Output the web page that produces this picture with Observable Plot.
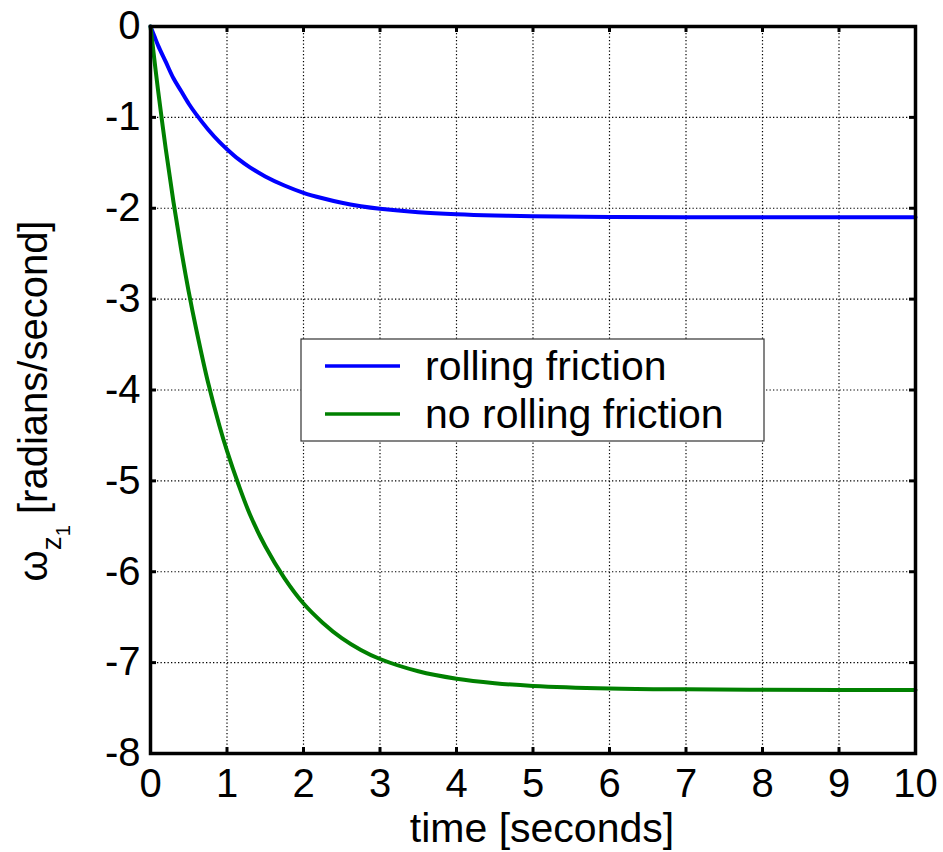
<!DOCTYPE html>
<html>
<head>
<meta charset="utf-8">
<script src="https://cdn.jsdelivr.net/npm/d3@7"></script>
<script src="https://cdn.jsdelivr.net/npm/@observablehq/plot@0.6"></script>
<style>
  html, body { margin: 0; padding: 0; background: #fff; }
  #chart { width: 943px; height: 852px; }
</style>
</head>
<body>
<div id="chart"></div>
<script>
// ---- data ----
const time = [0, 0.05, 0.1, 0.2, 0.3, 0.4, 0.5, 0.6, 0.75, 0.9, 1, 1.15, 1.3, 1.5, 1.75, 2, 2.25, 2.5, 2.75, 3, 3.5, 4, 4.5, 5, 6, 7, 8, 9, 10];
const rollingFriction = [0, -0.105, -0.21, -0.39, -0.57, -0.71, -0.85, -0.97, -1.13, -1.27, -1.35, -1.46, -1.55, -1.65, -1.75, -1.83, -1.89, -1.94, -1.977, -2.005, -2.043, -2.066, -2.08, -2.088, -2.096, -2.1, -2.1, -2.1, -2.1];
const noRollingFriction = [0, -0.36, -0.71, -1.35, -1.93, -2.45, -2.92, -3.34, -3.91, -4.39, -4.67, -5.04, -5.37, -5.72, -6.07, -6.35, -6.56, -6.73, -6.86, -6.96, -7.095, -7.177, -7.226, -7.256, -7.284, -7.294, -7.298, -7.3, -7.3];
const seriesNames = ["rolling friction", "no rolling friction"];
const seriesColors = ["#0000ff", "#008000"];
const xTicks = [0, 1, 2, 3, 4, 5, 6, 7, 8, 9, 10];
const yTicks = [-8, -7, -6, -5, -4, -3, -2, -1, 0];
const xLabel = "time [seconds]";

// ---- build table ----
const rows = [];
time.forEach((t, i) => {
  rows.push({t, v: rollingFriction[i], s: seriesNames[0]});
  rows.push({t, v: noRollingFriction[i], s: seriesNames[1]});
});

const W = 943, H = 852;
const mL = 150, mT = 26, mR = 28, mB = 99;
const innerH = H - mT - mB;
const innerW = W - mL - mR;
const font = "Liberation Sans, Arial, Helvetica, sans-serif";
const tickLen = 6;

const chart = Plot.plot({
  width: W, height: H,
  marginLeft: mL, marginTop: mT, marginRight: mR, marginBottom: mB,
  style: {fontFamily: font, background: "#fff", color: "#000"},
  x: {domain: [0, 10]},
  y: {domain: [-8, 0]},
  color: {domain: seriesNames, range: seriesColors},
  marks: [
    Plot.gridX(xTicks.slice(1, -1), {stroke: "#000", strokeOpacity: 1, strokeWidth: 1.2, strokeDasharray: "1.3,2.2"}),
    Plot.gridY(yTicks.slice(1, -1), {stroke: "#000", strokeOpacity: 1, strokeWidth: 1.2, strokeDasharray: "1.3,2.2"}),
    Plot.line(rows, {x: "t", y: "v", z: "s", stroke: "s", strokeWidth: 4, curve: "catmull-rom"}),
    // inward ticks on all four sides
    Plot.tickX(xTicks, {x: d => d, insetTop: innerH - tickLen, stroke: "#000", strokeWidth: 3}),
    Plot.tickX(xTicks, {x: d => d, insetBottom: innerH - tickLen, stroke: "#000", strokeWidth: 3}),
    Plot.tickY(yTicks, {y: d => d, insetRight: innerW - tickLen, stroke: "#000", strokeWidth: 3}),
    Plot.tickY(yTicks, {y: d => d, insetLeft: innerW - tickLen, stroke: "#000", strokeWidth: 3}),
    Plot.axisX({ticks: xTicks, tickSize: 0, tickPadding: 15, fontSize: 40, label: null, tickFormat: d => String(d)}),
    Plot.axisY({ticks: yTicks, tickSize: 0, tickPadding: 10, fontSize: 40, label: null, tickFormat: d => String(d)}),
    Plot.frame({stroke: "#000", strokeWidth: 3.5})
  ]
});

const svg = d3.select(chart);
svg.attr("font-family", font);

// x label
svg.append("text")
  .attr("x", 542).attr("y", 842)
  .attr("text-anchor", "middle")
  .attr("font-size", 41)
  .attr("fill", "#000")
  .text(xLabel);

// y label: ω_{z_1} [radians/second]
const yl = svg.append("text")
  .attr("transform", "translate(47,401) rotate(-90)")
  .attr("text-anchor", "middle")
  .attr("font-size", 40)
  .attr("fill", "#000");
yl.append("tspan").text("ω");
yl.append("tspan").attr("font-size", 28).attr("dy", 14).text("z");
yl.append("tspan").attr("font-size", 20).attr("dy", 9).text("1");
yl.append("tspan").attr("dy", -23).text(" [radians/second]");

// legend
const lg = svg.append("g").attr("text-anchor", "start");
lg.append("rect")
  .attr("x", 301).attr("y", 339).attr("width", 463).attr("height", 102)
  .attr("fill", "#fff").attr("stroke", "#333").attr("stroke-width", 1.2);
seriesNames.forEach((name, i) => {
  const cy = 366 + i * 48;
  lg.append("line")
    .attr("x1", 325).attr("x2", 400).attr("y1", cy).attr("y2", cy)
    .attr("stroke", seriesColors[i]).attr("stroke-width", 3.5);
  lg.append("text")
    .attr("x", 425).attr("y", cy).attr("dy", "0.35em")
    .attr("text-anchor", "start")
    .attr("font-size", 41).attr("fill", "#000")
    .text(name);
});

document.getElementById("chart").appendChild(chart);
</script>
</body>
</html>
